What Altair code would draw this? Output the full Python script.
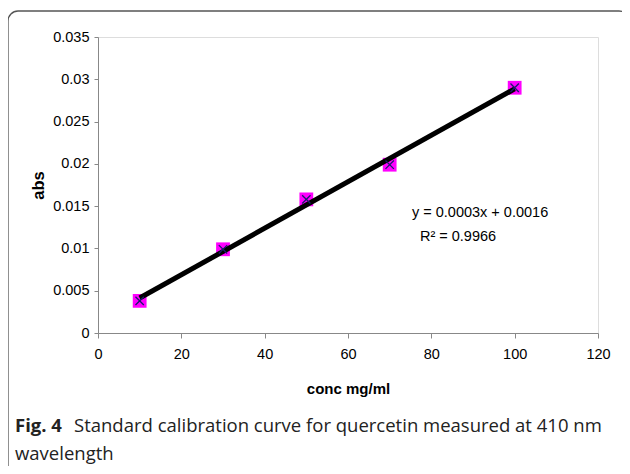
import altair as alt
import pandas as pd

# Data
conc = [10, 30, 50, 70, 100]
absorb = [0.0038, 0.0099, 0.0158, 0.0199, 0.029]

x_ticks = [0, 20, 40, 60, 80, 100, 120]
y_ticks = [0, 0.005, 0.01, 0.015, 0.02, 0.025, 0.03, 0.035]

eq_x = [91.7, 86.4]
eq_y = [0.0142, 0.01135]
eq_text = ["y = 0.0003x + 0.0016", "R\u00b2 = 0.9966"]

caption_bold = "Fig. 4"
caption_line1 = "Standard calibration curve for quercetin measured at 410 nm"
caption_line2 = "wavelength"

df = pd.DataFrame({"conc": conc, "abs": absorb})
eq_df = pd.DataFrame({"x": eq_x, "y": eq_y, "t": eq_text})

AXFONT = "Liberation Sans"

x_enc = alt.X(
    "conc:Q",
    scale=alt.Scale(domain=[0, 120], nice=False, zero=True),
    axis=alt.Axis(
        values=x_ticks,
        title="conc mg/ml",
        titleFont=AXFONT,
        titleFontWeight="bold",
        titleFontSize=15,
        titlePadding=21,
        labelFont=AXFONT,
        labelFontSize=14.5,
        labelPadding=9,
        tickSize=5,
        grid=False,
        domainColor="#888888",
        tickColor="#888888",
        labelColor="black",
        titleColor="black",
        labelFlush=False,
    ),
)
y_enc = alt.Y(
    "abs:Q",
    scale=alt.Scale(domain=[0, 0.035], nice=False, zero=True),
    axis=alt.Axis(
        values=y_ticks,
        format="~g",
        title="abs",
        titleFont=AXFONT,
        titleFontWeight="bold",
        titleFontSize=16.5,
        titlePadding=6,
        labelFont=AXFONT,
        labelFontSize=14.5,
        labelPadding=5,
        tickSize=4,
        grid=False,
        domainColor="#888888",
        tickColor="#888888",
        labelColor="black",
        titleColor="black",
        labelFlush=False,
    ),
)

base = alt.Chart(df)

squares = base.mark_point(
    shape="square", filled=True, color="#FF00FF", size=190, opacity=1
).encode(x=x_enc, y=y_enc)

reg = base.transform_regression("conc", "abs").mark_line(
    color="black", strokeWidth=5
).encode(x=x_enc, y=y_enc)

crosses = base.mark_point(
    shape="M-1,-1L1,1M-1,1L1,-1",
    filled=False,
    stroke="#1a1a6e",
    strokeWidth=1.3,
    size=70,
    opacity=1,
).encode(x=x_enc, y=y_enc)

eq = alt.Chart(eq_df).mark_text(
    font=AXFONT, fontSize=14.5, color="black", align="center", baseline="middle"
).encode(
    x=alt.X("x:Q"),
    y=alt.Y("y:Q"),
    text="t:N",
)

one = pd.DataFrame({"a": [0]})
frame = alt.Chart(one).mark_rect(
    fill="transparent", stroke="#555555", strokeWidth=1.3, cornerRadius=10
).encode(
    x=alt.value(-90), x2=alt.value(531), y=alt.value(-26), y2=alt.value(480)
)

CAPFONT = "Open Sans"
CAPSIZE = 18.5

cap_bold = alt.Chart(one).mark_text(
    text=caption_bold, font=CAPFONT, fontWeight="bold", fontSize=CAPSIZE,
    align="left", baseline="middle", color="#222222"
).encode(x=alt.value(-83), y=alt.value(389))

cap1 = alt.Chart(one).mark_text(
    text=caption_line1, font=CAPFONT, fontSize=CAPSIZE,
    align="left", baseline="middle", color="#222222"
).encode(x=alt.value(-24), y=alt.value(389))

cap2 = alt.Chart(one).mark_text(
    text=caption_line2, font=CAPFONT, fontSize=CAPSIZE,
    align="left", baseline="middle", color="#222222"
).encode(x=alt.value(-83), y=alt.value(417))

chart = alt.layer(frame, squares, reg, crosses, eq, cap_bold, cap1, cap2).properties(
    width=500,
    height=296,
    padding={"left": 90, "top": 29, "right": 24, "bottom": 133},
    autosize=alt.AutoSizeParams(type="none"),
).configure_view(stroke=None).configure(background="white")

chart.save("out.html", embed_options={"renderer": "svg", "actions": False})
